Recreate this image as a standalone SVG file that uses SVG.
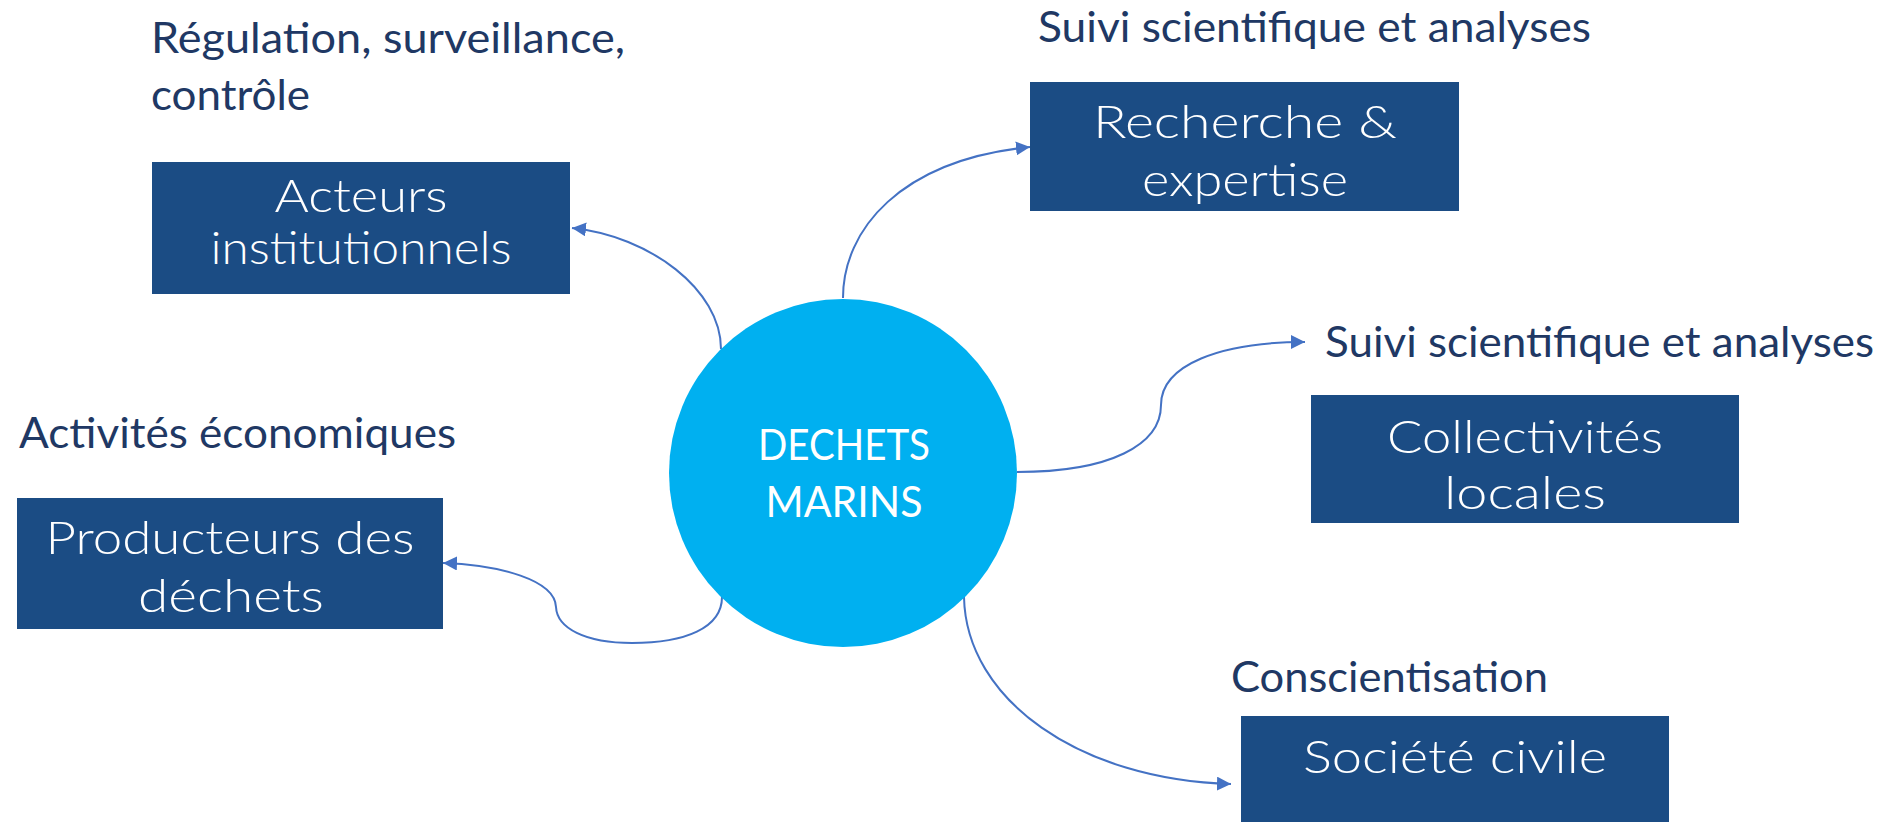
<svg xmlns="http://www.w3.org/2000/svg" width="1893" height="824" viewBox="0 0 1893 824">
<defs>
<style>
.box{fill:#1B4C84}
.bt{font-family:Lato,"Open Sans","DejaVu Sans",sans-serif;font-weight:300;font-size:46px;fill:#FFFFFF;text-anchor:middle}
.lbl{font-family:Lato,"Open Sans","Liberation Sans",sans-serif;font-size:42px;fill:#203864}
.ct{font-family:Lato,"Open Sans","Liberation Sans",sans-serif;font-size:42px;fill:#FFFFFF;text-anchor:middle}
.conn{fill:none;stroke:#4472C4;stroke-width:2}
</style>
<marker id="ah" markerUnits="userSpaceOnUse" markerWidth="15" markerHeight="14" refX="14" refY="7" orient="auto">
<path d="M0,0 L14,7 L0,14 z" fill="#4472C4"/>
</marker>
</defs>
<rect width="1893" height="824" fill="#FFFFFF"/>

<g id="connectors">
<path class="conn" d="M721,349 C721,290 650,236 572,228" marker-end="url(#ah)"/>
<path class="conn" d="M843,298 C843,230 900,160 1030,147" marker-end="url(#ah)"/>
<path class="conn" d="M1017,472 C1110,472 1161,445 1161,405 C1161,365 1220,342 1305,342" marker-end="url(#ah)"/>
<path class="conn" d="M722,597 C722,628 685,643 632,643 C585,643 557,628 556,607 C555,580 500,565 443,563" marker-end="url(#ah)"/>
<path class="conn" d="M964,597 C966,700 1080,780 1231,784" marker-end="url(#ah)"/>
</g>

<g id="center">
<circle cx="843" cy="473" r="174" fill="#00B0F0"/>
<text class="ct" x="844" y="460" textLength="172" lengthAdjust="spacingAndGlyphs">DECHETS</text>
<text class="ct" x="844" y="517" textLength="157" lengthAdjust="spacingAndGlyphs">MARINS</text>
</g>

<g id="acteurs">
<text class="lbl" x="151" y="53" textLength="474" lengthAdjust="spacingAndGlyphs">Régulation, surveillance,</text>
<text class="lbl" x="151" y="110" textLength="159" lengthAdjust="spacingAndGlyphs">contrôle</text>
<rect class="box" x="152" y="162" width="418" height="132"/>
<text class="bt" x="361" y="212" textLength="173" lengthAdjust="spacingAndGlyphs">Acteurs</text>
<text class="bt" x="361" y="264" textLength="301" lengthAdjust="spacingAndGlyphs">institutionnels</text>
</g>

<g id="recherche">
<text class="lbl" x="1038" y="42" textLength="553" lengthAdjust="spacingAndGlyphs">Suivi scientifique et analyses</text>
<rect class="box" x="1030" y="82" width="429" height="129"/>
<text class="bt" x="1245" y="138" textLength="304" lengthAdjust="spacingAndGlyphs">Recherche &amp;</text>
<text class="bt" x="1245" y="196" textLength="206" lengthAdjust="spacingAndGlyphs">expertise</text>
</g>

<g id="collectivites">
<text class="lbl" x="1325" y="357" textLength="549" lengthAdjust="spacingAndGlyphs">Suivi scientifique et analyses</text>
<rect class="box" x="1311" y="395" width="428" height="128"/>
<text class="bt" x="1525" y="453" textLength="276" lengthAdjust="spacingAndGlyphs">Collectivités</text>
<text class="bt" x="1525" y="509" textLength="162" lengthAdjust="spacingAndGlyphs">locales</text>
</g>

<g id="producteurs">
<text class="lbl" x="19" y="448" textLength="437" lengthAdjust="spacingAndGlyphs">Activités économiques</text>
<rect class="box" x="17" y="498" width="426" height="131"/>
<text class="bt" x="230" y="554" textLength="369" lengthAdjust="spacingAndGlyphs">Producteurs des</text>
<text class="bt" x="231" y="612" textLength="186" lengthAdjust="spacingAndGlyphs">déchets</text>
</g>

<g id="societe">
<text class="lbl" x="1231" y="692" textLength="317" lengthAdjust="spacingAndGlyphs">Conscientisation</text>
<rect class="box" x="1241" y="716" width="428" height="106"/>
<text class="bt" x="1455" y="773" textLength="304" lengthAdjust="spacingAndGlyphs">Société civile</text>
</g>
</svg>
